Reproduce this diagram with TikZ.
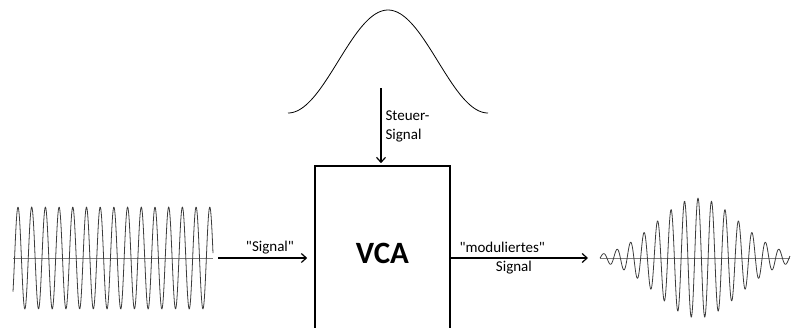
\documentclass[tikz,border=0pt]{standalone}
\usepackage{fontspec}
\setmainfont{Carlito}[Ligatures=TeXOff]
\usetikzlibrary{arrows.meta,positioning,calc}
\definecolor{cWave}{RGB}{60,60,60}
\definecolor{cAxis}{RGB}{125,125,125}
\tikzset{
  vcabox/.style={rectangle,draw=black,line width=1.6pt,
                 minimum width=135pt,minimum height=174pt,
                 font=\fontsize{31}{33}\selectfont\bfseries},
  lbl/.style={font=\fontsize{15}{19}\selectfont,inner sep=2pt},
  arr/.style={-{Straight Barb[length=5pt,width=9pt]},line width=1.2pt,color=black},
  wave/.style={cWave,line width=0.8pt,line join=round},
  axisline/.style={cAxis,line width=0.8pt}
}

\begin{document}
\begin{tikzpicture}[x=1pt,y=-1pt]
  \useasboundingbox (0,0) rectangle (791,327);
  % the block, running off the lower edge
  \node[vcabox] (vca) at (382.5,253) {VCA};
  % control curve
  \draw[wave,black] plot[domain=288:488,samples=90,smooth]
    (\x,{113-103*(1+cos(1.8*(\x-388)))/2});
  % input carrier
  \draw[axisline] (13,258) -- (213,258);
  \draw[wave] plot[domain=13:213,samples=420]
    (\x,{258-51*cos(26.28*(\x-18))});
  % modulated output
  \draw[axisline] (600,258) -- (790,258);
  \draw[wave] plot[domain=600:790,samples=420]
    (\x,{258-60*exp(-((\x-698)^2)/3400)*cos(26.67*(\x-698))});
  % ends of the connectors
  \coordinate (sigout) at (218,258);
  \coordinate (modin) at (588,258);
  \coordinate (ctl) at (381,88);
  \draw[arr,shorten >=7pt] (sigout) -- (sigout -| vca.west)
    node[lbl,pos=0.54,above,inner sep=3.5pt] {"Signal"};
  \draw[arr] (vca.east |- modin) -- (modin)
    node[lbl,pos=0.375,above,inner sep=5pt] {"moduliertes"}
    node[lbl,pos=0.46,below,inner sep=2.5pt] {Signal};
  \draw[arr,shorten >=2pt] (ctl) -- (ctl |- vca.north)
    node[lbl,midway,right,align=left,inner sep=4pt] {Steuer-\\Signal};
\end{tikzpicture}
\end{document}
